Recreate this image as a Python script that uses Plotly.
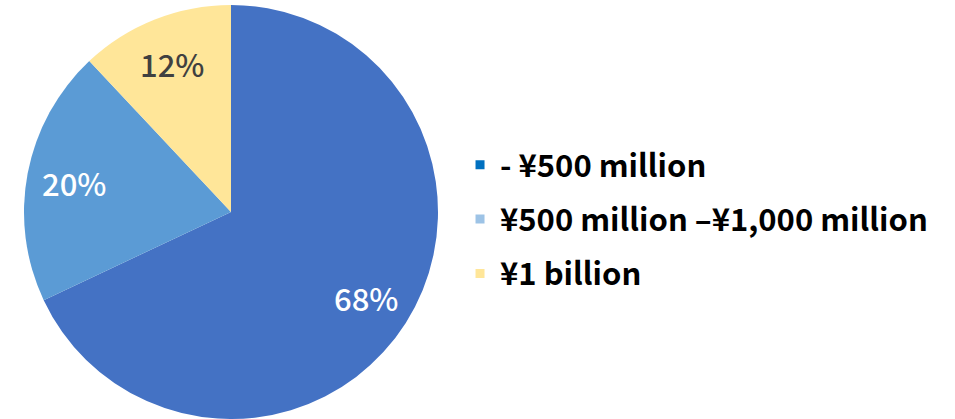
import math
import plotly.graph_objects as go

# Share of companies by capital size
categories = ["- \u00a5500 million", "\u00a5500 million \u2013\u00a51,000 million", "\u00a51 billion"]
shares = [68, 20, 12]
slice_colors = ["#4472C4", "#5B9BD5", "#FFE699"]
legend_colors = ["#0070C0", "#9DC3E6", "#FFE699"]
label_colors = ["#FFFFFF", "#FFFFFF", "#404040"]

FONT = "Noto Sans CJK JP"
W, H = 955, 419

# Pie geometry (pixels)
cx_px, cy_px, r_px = 231, 212, 207
dom_x = [(cx_px - r_px) / W, (cx_px + r_px) / W]
dom_y = [1 - (cy_px + r_px) / H, 1 - (cy_px - r_px) / H]

fig = go.Figure()
fig.add_trace(go.Pie(
    labels=categories,
    values=shares,
    sort=False,
    direction="clockwise",
    rotation=0,
    marker=dict(colors=slice_colors, line=dict(width=0)),
    textinfo="none",
    hoverinfo="label+percent",
    showlegend=False,
    domain=dict(x=dom_x, y=dom_y),
))

# Percentage labels placed along each slice's bisector
total = sum(shares)
start = 0.0
for val, col in zip(shares, label_colors):
    mid = (start + val / 2) / total * 2 * math.pi
    start += val
    rr = 0.77 * r_px
    px = cx_px + rr * math.sin(mid)
    py = cy_px - rr * math.cos(mid)
    fig.add_annotation(
        x=px / W, y=1 - py / H, xref="paper", yref="paper",
        text=f"{val}%", showarrow=False,
        xanchor="center", yanchor="middle",
        font=dict(family=FONT, size=31, color=col, weight=500),
    )

# Legend entries drawn as square markers
for name, col in zip(categories, legend_colors):
    fig.add_trace(go.Scatter(
        x=[None], y=[None], mode="markers", name=name,
        legendgroup=name,
        marker=dict(symbol="square", size=9, color=col),
    ))

fig.update_layout(
    width=W, height=H,
    margin=dict(l=0, r=0, t=0, b=0),
    paper_bgcolor="white",
    plot_bgcolor="white",
    xaxis=dict(visible=False),
    yaxis=dict(visible=False),
    legend=dict(
        x=0.4817, y=0.477, xanchor="left", yanchor="middle",
        font=dict(family=FONT, size=31, color="#000000", weight="bold"),
        traceorder="grouped",
        tracegroupgap=11,
        itemwidth=30,
        bgcolor="rgba(0,0,0,0)",
    ),
)

fig.write_html("out.html")
